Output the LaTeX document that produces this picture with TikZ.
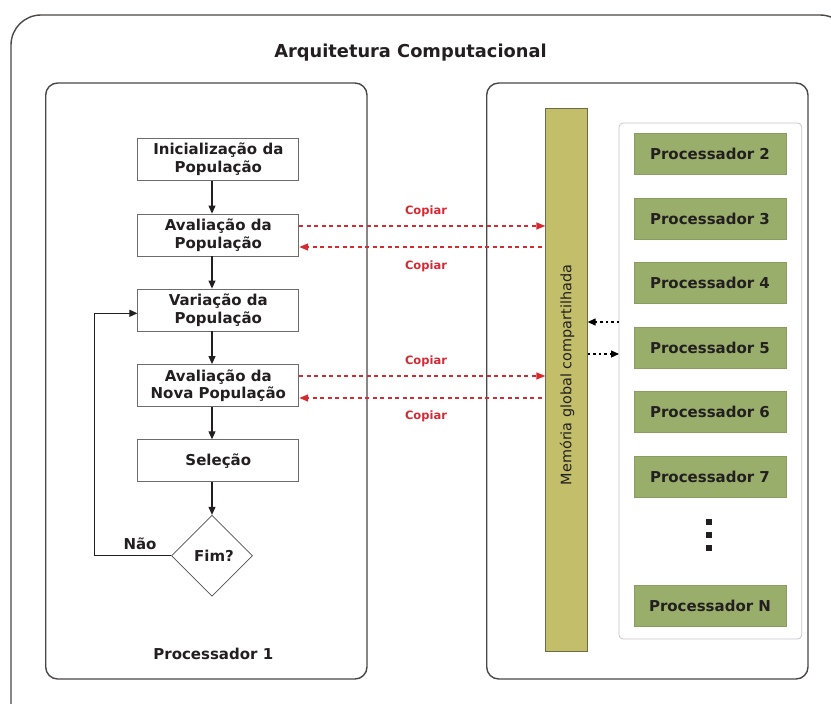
\documentclass[tikz,border=0pt]{standalone}
\usepackage{fontspec}
\setmainfont{DejaVu Sans}
\usetikzlibrary{arrows.meta,shapes.geometric}
\definecolor{frame}{HTML}{4A4745}
\definecolor{ink}{HTML}{231F20}
\definecolor{membar}{HTML}{C3BE69}
\definecolor{memline}{HTML}{6E6A45}
\definecolor{procfill}{HTML}{99AE6B}
\definecolor{procline}{HTML}{8A9D60}
\definecolor{copyred}{HTML}{D42A30}
\tikzset{
  x=1pt, y=-1pt,
  panel/.style={draw=frame, line width=1.4pt, rounded corners=12pt},
  boxfont/.style={font=\bfseries\fontsize{15}{17.5}\selectfont, text=ink},
  flowbox/.style={boxfont, draw=gray!85!black, line width=0.8pt, fill=white, minimum width=161pt,
    minimum height=42pt, align=center, inner sep=0pt},
  procbox/.style={boxfont, draw=procline, line width=0.6pt, fill=procfill, minimum width=152pt,
    minimum height=41pt, inner sep=0pt},
  flow/.style={draw=ink, line width=1.1pt, -{Triangle[length=8pt,width=7pt]}},
  copyarrow/.style={draw=copyred, line width=1.4pt, dash pattern=on 4pt off 3.5pt,
    -{Triangle[length=9pt,width=7pt]}},
  syncarrow/.style={draw=black, line width=1.2pt, dash pattern=on 2.5pt off 3pt,
    -{Triangle[length=8pt,width=7pt]}},
  copylabel/.style={text=copyred, font=\bfseries\fontsize{11.5}{13}\selectfont},
  dotsq/.style={fill=ink, minimum size=6pt, inner sep=0pt},
}
\begin{document}
\begin{tikzpicture}
\useasboundingbox (0,0) rectangle (831,704);
% outer frame, running past the right and bottom edges
\begin{scope}
  \clip (0,0) rectangle (831,704);
  \draw[draw=frame, line width=1.4pt, rounded corners=30pt] (11,15) rectangle (850,740);
\end{scope}
\node[font=\bfseries\fontsize{17.8}{20}\selectfont, text=ink] (title) at (410.5,53) {Arquitetura Computacional};

% the two processor areas
\draw[panel] (45.7,83) rectangle (367,679);
\draw[panel] (486.7,83) rectangle (808,679);

% flowchart of processor 1
\node[flowbox] (init) at (218.3,159.3) {Inicialização da\\População};
\node[flowbox] (aval) at (218.3,235) {Avaliação da\\População};
\node[flowbox] (vari) at (218.3,310) {Variação da\\População};
\node[flowbox] (nova) at (218.3,385.5) {Avaliação da\\Nova População};
\node[flowbox] (sele) at (218.3,460.7) {Seleção};
\node[diamond, draw=ink!80, line width=0.7pt, minimum width=81pt, minimum height=81pt,
  inner sep=0pt, aspect=1] (fim) at (212,555.7) {};
\node[boxfont] (fimtxt) at (214,556) {Fim?};
\node[boxfont] (nao) at (140,544) {Não};
\node[boxfont] (p1) at (213.3,654) {Processador 1};

\draw[flow] (init.south -| fim.north) -- (aval.north -| fim.north);
\draw[flow] (aval.south -| fim.north) -- (vari.north -| fim.north);
\draw[flow] (vari.south -| fim.north) -- (nova.north -| fim.north);
\draw[flow] (nova.south -| fim.north) -- (sele.north -| fim.north);
\draw[flow] (sele.south -| fim.north) -- (fim.north);
\coordinate (loopbot) at (94.3,555.7);
\coordinate (looptop) at (94.3,313.3);
\draw[flow] (fim.west) -- (loopbot) -- (looptop) -- (vari.west |- looptop);

% shared memory
\node[draw=memline, line width=0.7pt, fill=membar, minimum width=41.6pt, minimum height=543pt,
  inner sep=0pt] (mem) at (566.5,379.5) {};
\node[rotate=90, font=\fontsize{14.4}{16}\selectfont, text=ink] (memtxt) at (567,375) {Memória global compartilhada};

% remaining processors
\draw[draw=gray!45, line width=0.8pt, fill=white, rounded corners=4pt] (619,123) rectangle (801.7,639);
\node[procbox] (p2) at (710,154) {Processador 2};
\node[procbox] (p3) at (710,218.8) {Processador 3};
\node[procbox] (p4) at (710,283.2) {Processador 4};
\node[procbox] (p5) at (710,347.8) {Processador 5};
\node[procbox] (p6) at (710,412.2) {Processador 6};
\node[procbox] (p7) at (710,476.5) {Processador 7};
\node[procbox] (pn) at (710,605.8) {Processador N};
\node[dotsq] (d1) at (709.3,522) {};
\node[dotsq] (d2) at (709.3,535) {};
\node[dotsq] (d3) at (709.3,548) {};

\coordinate (syncin) at (619,322);
\coordinate (syncout) at (619,354);
\draw[syncarrow] (syncin) -- (mem.east |- syncin);
\draw[syncarrow] (mem.east |- syncout) -- (syncout);

% copy traffic between processor 1 and the shared memory
\coordinate (s1) at (0,226);
\coordinate (s2) at (0,376);
\coordinate (r1) at (541.7,247);
\coordinate (r2) at (541.7,398);
\draw[copyarrow] (aval.east |- s1) -- (mem.west |- s1);
\draw[copyarrow] (r1) -- (aval.east |- r1);
\draw[copyarrow] (nova.east |- s2) -- (mem.west |- s2);
\draw[copyarrow] (r2) -- (nova.east |- r2);
\node[copylabel] (c1) at (426,211) {Copiar};
\node[copylabel] (c2) at (426,266) {Copiar};
\node[copylabel] (c3) at (426,361) {Copiar};
\node[copylabel] (c4) at (426,416) {Copiar};
\end{tikzpicture}
\end{document}
